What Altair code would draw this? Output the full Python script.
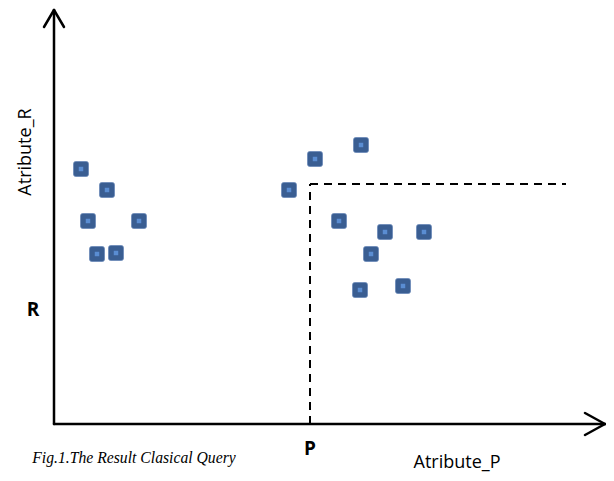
import altair as alt
import pandas as pd

# Data points (attribute P, attribute R)
px_vals = [27, 53, 34, 85, 43, 62, 235, 261, 307, 285, 331, 370, 317, 306, 349]
pr_vals = [255, 234, 203, 203, 170, 171, 234, 265, 279, 203, 192, 192, 170, 134, 138]

# Query thresholds
P_val = 256
R_val = 240
P_end = 512

# Axis extents
x_axis_end = 551
y_axis_end = 414

W, H = 598, 465
xs = alt.Scale(domain=[-46, W - 46], nice=False, zero=False)
ys = alt.Scale(domain=[-49, 416], nice=False, zero=False)

pts = pd.DataFrame({"x": px_vals, "y": pr_vals})

axes_df = pd.DataFrame([
    {"x": 0, "y": 0, "x2": x_axis_end, "y2": 0},
    {"x": 0, "y": 0, "x2": 0, "y2": y_axis_end},
    {"x": x_axis_end, "y": 0, "x2": x_axis_end - 20, "y2": 11},
    {"x": x_axis_end, "y": 0, "x2": x_axis_end - 20, "y2": -11},
    {"x": 0, "y": y_axis_end, "x2": -10, "y2": y_axis_end - 17},
    {"x": 0, "y": y_axis_end, "x2": 10, "y2": y_axis_end - 17},
])

dash_df = pd.DataFrame([
    {"x": P_val, "y": 0, "x2": P_val, "y2": R_val},
    {"x": P_val, "y": R_val, "x2": P_end, "y2": R_val},
])

enc = dict(
    x=alt.X("x:Q", scale=xs, axis=None),
    y=alt.Y("y:Q", scale=ys, axis=None),
)

axes = alt.Chart(axes_df).mark_rule(color="black", strokeWidth=2.5, strokeCap="round").encode(
    x2="x2:Q", y2="y2:Q", **enc)

dashes = alt.Chart(dash_df).mark_rule(color="black", strokeWidth=2, strokeDash=[8, 6]).encode(
    x2="x2:Q", y2="y2:Q", **enc)

rounded = "M-0.7,-1 L0.7,-1 Q1,-1 1,-0.7 L1,0.7 Q1,1 0.7,1 L-0.7,1 Q-1,1 -1,0.7 L-1,-0.7 Q-1,-1 -0.7,-1 Z"
points = alt.Chart(pts).mark_point(
    shape=rounded, size=225, filled=True, fill="#3A5E92", stroke="#6A88B8", strokeWidth=0.8, opacity=1
).encode(**enc)
centers = alt.Chart(pts).mark_point(
    shape="square", size=20, filled=True, fill="#5A8DD2", opacity=1
).encode(**enc)

bold_df = pd.DataFrame({"x": [-21, P_val], "y": [114, -25], "label": ["R", "P"]})
bold_txt = alt.Chart(bold_df).mark_text(
    font="Open Sans", fontSize=19, fontWeight="bold", color="black", baseline="middle", align="center"
).encode(text="label:N", **enc)

ap_df = pd.DataFrame({"x": [403], "y": [-39], "label": ["Atribute_P"]})
ap_txt = alt.Chart(ap_df).mark_text(
    font="Open Sans", fontSize=18, color="black", baseline="middle", align="center"
).encode(text="label:N", **enc)

ar_df = pd.DataFrame({"x": [-28], "y": [272], "label": ["Atribute_R"]})
ar_txt = alt.Chart(ar_df).mark_text(
    font="Open Sans", fontSize=18, color="black", baseline="middle", align="center", angle=270
).encode(text="label:N", **enc)

cap_df = pd.DataFrame({"x": [80], "y": [-34], "label": ["Fig.1.The Result Clasical Query"]})
cap_txt = alt.Chart(cap_df).mark_text(
    font="Liberation Serif", fontSize=15.7, fontStyle="italic", color="black", baseline="middle", align="center"
).encode(text="label:N", **enc)

chart = alt.layer(axes, dashes, points, centers, bold_txt, ap_txt, ar_txt, cap_txt).properties(
    width=W, height=H, autosize=alt.AutoSizeParams(type="none"), padding=0, background="white"
).configure_view(stroke=None)

chart.save("out.html", embed_options={"renderer": "svg", "actions": False})
